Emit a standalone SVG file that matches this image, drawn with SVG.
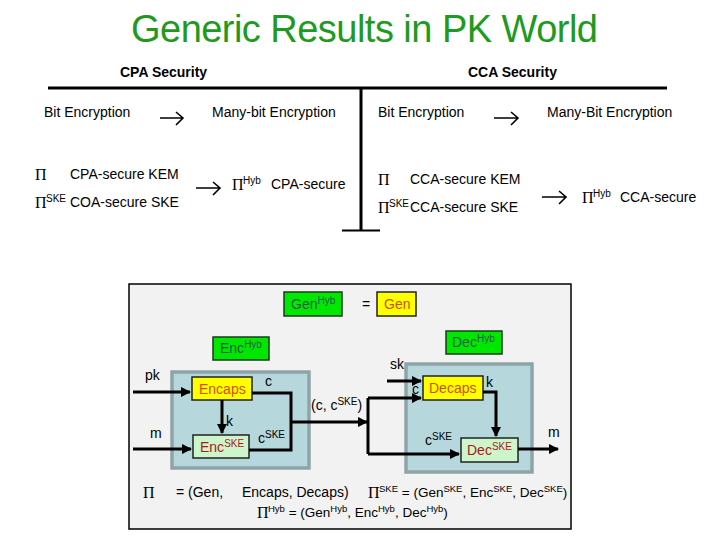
<svg xmlns="http://www.w3.org/2000/svg" width="720" height="540" viewBox="0 0 720 540">
<defs>
<style>
text{font-family:"Liberation Sans",Arial,sans-serif;font-size:14px;fill:#000}
.pi{font-family:"Liberation Serif","DejaVu Serif",serif;font-size:16px}
.sup{font-size:10px}
.hdr{font-weight:bold;font-size:14px}
.title{font-size:38px;fill:#1e9a1e}
.gbox{fill:#00e800;stroke:#1a3a1a;stroke-width:1.5}
.ybox{fill:#ffff00;stroke:#222;stroke-width:1.5}
.lbox{fill:#ccf5cc;stroke:#222;stroke-width:1.5}
.inner{fill:#b6d8dd;stroke:#8ea4a8;stroke-width:3.5}
.gt{fill:#1c5a4a;font-size:14px}
.yt{fill:#d05000;font-size:14px}
.rt{fill:#b01818;font-size:14px}
.wire{fill:none;stroke:#000;stroke-width:3}
.arr{fill:none;stroke:#000;stroke-width:1.6}
.def{font-size:13.5px}
.def .sup{font-size:9.5px}
</style>
<marker id="ah" viewBox="0 0 10 10" refX="9" refY="5" markerWidth="3.5" markerHeight="3.5" orient="auto">
<path d="M0,0 L10,5 L0,10 z" fill="#000"/>
</marker>
</defs>
<rect width="720" height="540" fill="#fff"/>

<text class="title" x="131" y="42" textLength="467">Generic Results in PK World</text>

<g id="header">
<text class="hdr" x="120" y="77">CPA Security</text>
<text class="hdr" x="468" y="77">CCA Security</text>
<path d="M48 88 H667 M361 88 V230" stroke="#000" stroke-width="3" fill="none"/>
<path d="M342 230.5 H380" stroke="#000" stroke-width="2" fill="none"/>
</g>

<g id="cpa">
<text x="44" y="117">Bit Encryption</text>
<text x="212" y="117">Many-bit Encryption</text>
<text class="pi" x="35" y="180">Π</text>
<text x="70" y="179">CPA-secure KEM</text>
<text class="pi" x="35" y="208">Π</text>
<text class="sup" x="46" y="202">SKE</text>
<text x="70" y="207">COA-secure SKE</text>
<text class="pi" x="232" y="190">Π</text>
<text class="sup" x="243" y="184">Hyb</text>
<text x="271" y="189">CPA-secure</text>
</g>

<g id="cca">
<text x="378" y="117">Bit Encryption</text>
<text x="547" y="117">Many-Bit Encryption</text>
<text class="pi" x="378" y="185">Π</text>
<text x="410" y="184">CCA-secure KEM</text>
<text class="pi" x="378" y="213">Π</text>
<text class="sup" x="389" y="207">SKE</text>
<text x="410" y="212">CCA-secure SKE</text>
<text class="pi" x="582" y="203">Π</text>
<text class="sup" x="593" y="197">Hyb</text>
<text x="620" y="202">CCA-secure</text>
</g>

<g id="arrows-top">
<path class="arr" d="M160 118 H182 M176 112 L183 118 L176 125"/>
<path class="arr" d="M196 188 H219 M213 182 L220 188 L213 195"/>
<path class="arr" d="M494 118 H517 M511 112 L518 118 L511 125"/>
<path class="arr" d="M542 197 H565 M559 191 L566 197 L559 204"/>
</g>

<g id="frame">
<rect x="129" y="284" width="442" height="245" fill="#f2f2f2" stroke="#000" stroke-width="1.5"/>
</g>

<g id="genhyb">
<rect class="gbox" x="284" y="292" width="58" height="24"/>
<text class="gt" x="291" y="309">Gen<tspan class="sup" dy="-5">Hyb</tspan></text>
</g>
<text x="362" y="309">=</text>
<g id="gen">
<rect class="ybox" x="377" y="292" width="39" height="24"/>
<text class="yt" x="384" y="309">Gen</text>
</g>

<g id="enchyb-box">
<rect class="inner" x="172" y="372" width="137" height="96"/>
</g>
<g id="enchyb">
<rect class="gbox" x="213" y="337" width="56" height="23"/>
<text class="gt" x="220" y="353">Enc<tspan class="sup" dy="-5">Hyb</tspan></text>
</g>
<g id="dechyb-box">
<rect class="inner" x="406" y="364" width="126" height="108"/>
</g>
<g id="dechyb">
<rect class="gbox" x="446" y="331" width="56" height="23"/>
<text class="gt" x="452" y="347">Dec<tspan class="sup" dy="-5">Hyb</tspan></text>
</g>

<g id="encaps">
<rect class="ybox" x="192" y="377" width="60" height="23"/>
<text class="yt" x="199" y="394">Encaps</text>
</g>
<g id="encske">
<rect class="lbox" x="193" y="435" width="56" height="23"/>
<text class="rt" x="200" y="452">Enc<tspan class="sup" dy="-5">SKE</tspan></text>
</g>
<g id="decaps">
<rect class="ybox" x="423" y="376" width="60" height="24"/>
<text class="yt" x="429" y="393">Decaps</text>
</g>
<g id="decske">
<rect class="lbox" x="461" y="438" width="57" height="24"/>
<text class="rt" x="467" y="455">Dec<tspan class="sup" dy="-5">SKE</tspan></text>
</g>

<g id="connectors">
<path class="wire" d="M133 392 H190" marker-end="url(#ah)"/>
<path class="wire" d="M133 449 H191" marker-end="url(#ah)"/>
<path class="wire" d="M222 400 V433" marker-end="url(#ah)"/>
<path class="wire" d="M252 393 H291 V450 H249"/>
<path class="wire" d="M291 422 H367" marker-end="url(#ah)"/>
<path class="wire" d="M368 398 V454"/>
<path class="wire" d="M368 398 H421" marker-end="url(#ah)"/>
<path class="wire" d="M368 454 H459" marker-end="url(#ah)"/>
<path class="wire" d="M387 381 H421" marker-end="url(#ah)"/>
<path class="wire" d="M483 392 H496 V436" marker-end="url(#ah)"/>
<path class="wire" d="M518 449 H558" marker-end="url(#ah)"/>
</g>

<g id="labels">
<text x="145" y="380">pk</text>
<text x="150" y="438">m</text>
<text x="226" y="426">k</text>
<text x="265" y="386">c</text>
<text x="258" y="443">c<tspan class="sup" dy="-5">SKE</tspan></text>
<text x="311" y="410">(c, c<tspan class="sup" dy="-5">SKE</tspan><tspan dy="5">)</tspan></text>
<text x="390" y="369">sk</text>
<text x="412" y="394">c</text>
<text x="486" y="387">k</text>
<text x="425" y="445">c<tspan class="sup" dy="-5">SKE</tspan></text>
<text x="548" y="437">m</text>
</g>

<g id="defs-text">
<text class="pi" x="143" y="498">Π</text>
<text x="176" y="497">= (Gen,</text>
<text x="242" y="497">Encaps, Decaps)</text>
<text class="pi" x="368" y="498">Π</text>
<text class="def" x="379" y="497"><tspan class="sup" dy="-5">SKE</tspan><tspan dy="5"> = (Gen</tspan><tspan class="sup" dy="-5">SKE</tspan><tspan dy="5">, Enc</tspan><tspan class="sup" dy="-5">SKE</tspan><tspan dy="5">, Dec</tspan><tspan class="sup" dy="-5">SKE</tspan><tspan dy="5">)</tspan></text>
<text class="pi" x="257" y="518">Π</text>
<text class="def" x="268" y="517"><tspan class="sup" dy="-5">Hyb</tspan><tspan dy="5">  = (Gen</tspan><tspan class="sup" dy="-5">Hyb</tspan><tspan dy="5">, Enc</tspan><tspan class="sup" dy="-5">Hyb</tspan><tspan dy="5">, Dec</tspan><tspan class="sup" dy="-5">Hyb</tspan><tspan dy="5">)</tspan></text>
</g>
</svg>
